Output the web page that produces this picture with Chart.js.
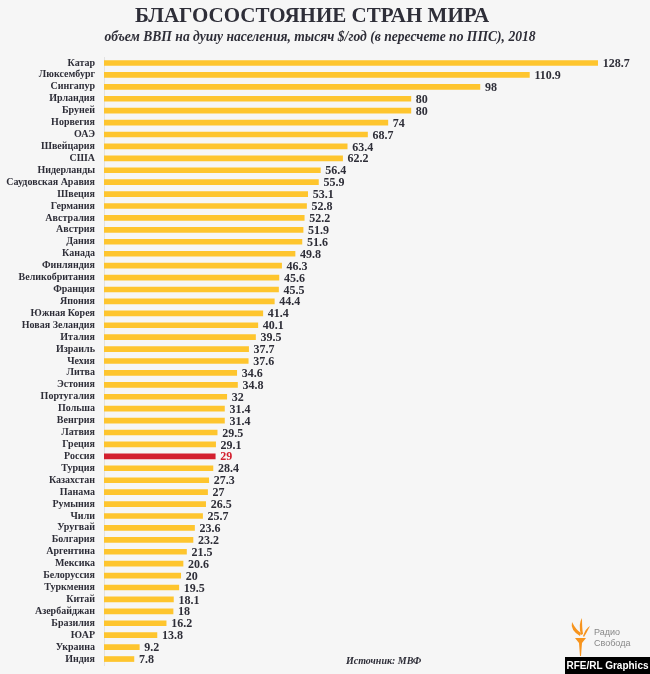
<!DOCTYPE html>
<html lang="ru">
<head>
  <meta charset="UTF-8">
  <title>Благосостояние стран мира</title>
  <script src="https://cdn.jsdelivr.net/npm/chart.js"></script>
  <style>
    body {
      margin: 0;
      background: #f6f6f6;
      font-family: 'Liberation Serif', serif;
    }
    #wrap {
      position: relative;
      width: 650px;
      height: 674px;
      overflow: hidden;
    }
    h1 {
      position: absolute;
      top: 3px;
      left: 0;
      width: 624px;
      margin: 0;
      text-align: center;
      font-size: 21px;
      font-weight: bold;
      color: #2e2e38;
    }
    h2 {
      position: absolute;
      top: 29px;
      left: 0;
      width: 640px;
      margin: 0;
      text-align: center;
      font-size: 13.6px;
      font-weight: bold;
      font-style: italic;
      color: #2e2e38;
    }
    #source {
      position: absolute;
      left: 346px;
      top: 655px;
      font-size: 10px;
      font-weight: bold;
      font-style: italic;
      color: #2e2e38;
    }
    #radio {
      position: absolute;
      left: 594px;
      top: 627px;
      font-family: 'Liberation Sans', sans-serif;
      font-size: 9px;
      line-height: 11px;
      color: #888;
    }
    #credit {
      position: absolute;
      left: 565px;
      top: 657px;
      width: 85px;
      height: 17px;
      background: #000;
      color: #fff;
      font-family: 'Liberation Sans', sans-serif;
      font-weight: bold;
      font-size: 10px;
      line-height: 17px;
      text-align: center;
      white-space: nowrap;
    }
    canvas { position: absolute; left: 0; top: 0; }
  </style>
</head>
<body>
<div id="wrap">
  <canvas id="chart" width="650" height="674"></canvas>
  <h1>БЛАГОСОСТОЯНИЕ СТРАН МИРА</h1>
  <h2>объем ВВП на душу населения, тысяч $/год (в пересчете по ППС), 2018</h2>
  <div id="source">Источник: МВФ</div>
  <div id="radio">Радио<br>Свобода</div>
  <div id="credit">RFE/RL Graphics</div>
</div>

<script>
  var countries = ['Катар', 'Люксембург', 'Сингапур', 'Ирландия', 'Бруней', 'Норвегия', 'ОАЭ',
    'Швейцария', 'США', 'Нидерланды', 'Саудовская Аравия', 'Швеция', 'Германия', 'Австралия',
    'Австрия', 'Дания', 'Канада', 'Финляндия', 'Великобритания', 'Франция', 'Япония',
    'Южная Корея', 'Новая Зеландия', 'Италия', 'Израиль', 'Чехия', 'Литва', 'Эстония',
    'Португалия', 'Польша', 'Венгрия', 'Латвия', 'Греция', 'Россия', 'Турция', 'Казахстан',
    'Панама', 'Румыния', 'Чили', 'Уругвай', 'Болгария', 'Аргентина', 'Мексика', 'Белоруссия',
    'Туркмения', 'Китай', 'Азербайджан', 'Бразилия', 'ЮАР', 'Украина', 'Индия'];
  var gdp = [128.7, 110.9, 98, 80, 80, 74, 68.7, 63.4, 62.2, 56.4, 55.9, 53.1, 52.8, 52.2,
    51.9, 51.6, 49.8, 46.3, 45.6, 45.5, 44.4, 41.4, 40.1, 39.5, 37.7, 37.6, 34.6, 34.8,
    32, 31.4, 31.4, 29.5, 29.1, 29, 28.4, 27.3, 27, 26.5, 25.7, 23.6, 23.2, 21.5, 20.6, 20,
    19.5, 18.1, 18, 16.2, 13.8, 9.2, 7.8];
  var highlight = 'Россия';

  var yellow = '#fec52e';
  var red = '#d3202f';
  var textColor = '#2e2e38';

  var barColors = countries.map(function (c) { return c === highlight ? red : yellow; });

  // value labels at bar ends + torch logo
  var extras = {
    id: 'extras',
    afterDatasetsDraw: function (chart) {
      var ctx = chart.ctx;
      var meta = chart.getDatasetMeta(0);
      ctx.save();
      ctx.font = 'bold 12px "Liberation Serif"';
      ctx.textBaseline = 'middle';
      ctx.textAlign = 'left';
      meta.data.forEach(function (bar, i) {
        ctx.fillStyle = countries[i] === highlight ? red : textColor;
        ctx.fillText(String(gdp[i]), bar.x + 5, bar.y + 1);
      });
      ctx.restore();
    },
    afterDraw: function (chart) {
      var ctx = chart.ctx;
      ctx.save();
      ctx.fillStyle = '#f7941d';
      // torch stem
      ctx.beginPath();
      ctx.moveTo(575, 638);
      ctx.lineTo(586, 638);
      ctx.lineTo(582, 643);
      ctx.lineTo(581, 656);
      ctx.lineTo(580, 656);
      ctx.lineTo(579, 643);
      ctx.closePath();
      ctx.fill();
      // flames
      ctx.beginPath();
      ctx.moveTo(580, 636);
      ctx.quadraticCurveTo(570, 630, 572, 622);
      ctx.quadraticCurveTo(576, 630, 581, 633);
      ctx.closePath();
      ctx.fill();
      ctx.beginPath();
      ctx.moveTo(581, 635);
      ctx.quadraticCurveTo(578, 624, 582, 618);
      ctx.quadraticCurveTo(582, 628, 583, 634);
      ctx.closePath();
      ctx.fill();
      ctx.beginPath();
      ctx.moveTo(583, 636);
      ctx.quadraticCurveTo(586, 628, 590, 626);
      ctx.quadraticCurveTo(587, 632, 584, 637);
      ctx.closePath();
      ctx.fill();
      ctx.restore();
    }
  };

  new Chart(document.getElementById('chart'), {
    type: 'bar',
    data: {
      labels: countries,
      datasets: [{
        data: gdp,
        backgroundColor: barColors,
        barThickness: 5,
        borderWidth: 0
      }]
    },
    options: {
      indexAxis: 'y',
      responsive: false,
      animation: false,
      layout: { padding: { top: 57, bottom: 9, left: 0, right: 9 } },
      plugins: {
        legend: { display: false },
        tooltip: { enabled: false }
      },
      scales: {
        x: {
          display: false,
          min: 0,
          max: 140
        },
        y: {
          grid: { display: false, drawTicks: false, tickLength: 0 },
          border: { display: true, color: '#e2e2e2', width: 1 },
          afterFit: function (scale) {
            scale.width = 104;
            scale.paddingTop = 0;
            scale.paddingBottom = 0;
          },
          ticks: {
            padding: 9,
            autoSkip: false,
            color: textColor,
            font: { family: 'Liberation Serif', weight: 'bold', size: 10 }
          }
        }
      }
    },
    plugins: [extras]
  });
</script>
</body>
</html>
